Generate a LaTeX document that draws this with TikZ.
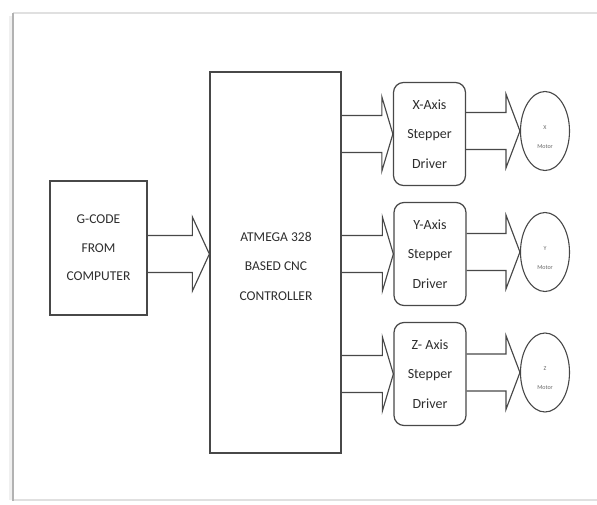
\documentclass[tikz,border=0pt]{standalone}
\usepackage{fontspec}
\setmainfont{Carlito}
\usetikzlibrary{shapes.geometric,calc}
\definecolor{linegray}{HTML}{484848}
\definecolor{textgray}{HTML}{2E2E2E}
\tikzset{
  sqbox/.style={draw=linegray, line width=1.25pt, fill=white, inner sep=0pt, align=center, text=textgray},
  drvbox/.style={sqbox, rounded corners=10pt, minimum width=72pt, minimum height=103pt,
    font=\fontsize{14}{29.5}\selectfont},
  motor/.style={draw=linegray, line width=1.1pt, ellipse, minimum width=49pt, minimum height=79pt, inner sep=0pt},
  motortext/.style={font=\fontsize{6}{19}\selectfont, text=black!60, align=center, inner sep=0pt},
  blockarrow/.style={draw=linegray, line width=1.15pt, line join=miter},
  frameL/.style={draw=black!30, line width=1.6pt},
  frameT/.style={draw=black!12, line width=1.2pt}
}
% #1 from node, #2 to node, #3 node giving centre height, #4 head length
\newcommand{\blockarr}[4]{%
  \draw[blockarrow] let \p1=(#1.east), \p2=(#2.west), \p3=(#3.center) in
    (\x1,\y3+18.5pt) -- (\x2-#4,\y3+18.5pt) -- (\x2-#4,\y3+37pt) -- (\x2,\y3)
    -- (\x2-#4,\y3-37pt) -- (\x2-#4,\y3-18.5pt) -- (\x1,\y3-18.5pt);}
\begin{document}
\begin{tikzpicture}[x=1pt,y=-1pt]
\useasboundingbox (0,0) rectangle (597,504);
% page frame
\draw[black!6, line width=3pt] (10.5,16) -- (10.5,500);
\draw[frameT] (13,13) -- (597,13);
\draw[frameT] (13,500) -- (597,500);
\draw[frameL] (13,13) -- (13,501);

% main blocks
\node[sqbox, minimum width=97pt, minimum height=134pt, font=\fontsize{13.5}{28.5}\selectfont]
  (gcode) at (98.5,248) {G-CODE\\FROM\\COMPUTER};
\node[sqbox, minimum width=131pt, minimum height=381pt] (ctrl) at (275.5,262.5) {};
\node[text=textgray, align=center, inner sep=0pt, font=\fontsize{13.5}{29.5}\selectfont]
  (ctrltext) at (276,266) {ATMEGA 328\\BASED CNC\\CONTROLLER};

% drivers
\node[drvbox] (xdrv) at (429.5,134) {X-Axis\\Stepper\\Driver};
\node[drvbox] (ydrv) at (430,254) {Y-Axis\\Stepper\\Driver};
\node[drvbox] (zdrv) at (430,374) {Z- Axis\\Stepper\\Driver};

% motors
\node[motor, label={[motortext, yshift=-6pt]center:X\\Motor}] (xmot) at (545,131) {};
\node[motor, label={[motortext, yshift=-6pt]center:Y\\Motor}] (ymot) at (545,252) {};
\node[motor, label={[motortext, yshift=-6pt]center:Z\\Motor}] (zmot) at (545,372.5) {};

% block arrows
\blockarr{gcode}{ctrl}{ydrv}{17pt}
\blockarr{ctrl}{xdrv}{xdrv}{11pt}
\blockarr{ctrl}{ydrv}{ydrv}{11pt}
\blockarr{ctrl}{zdrv}{zdrv}{11pt}
\blockarr{xdrv}{xmot}{xmot}{14pt}
\blockarr{ydrv}{ymot}{ymot}{14pt}
\blockarr{zdrv}{zmot}{zmot}{14pt}
\end{tikzpicture}
\end{document}
